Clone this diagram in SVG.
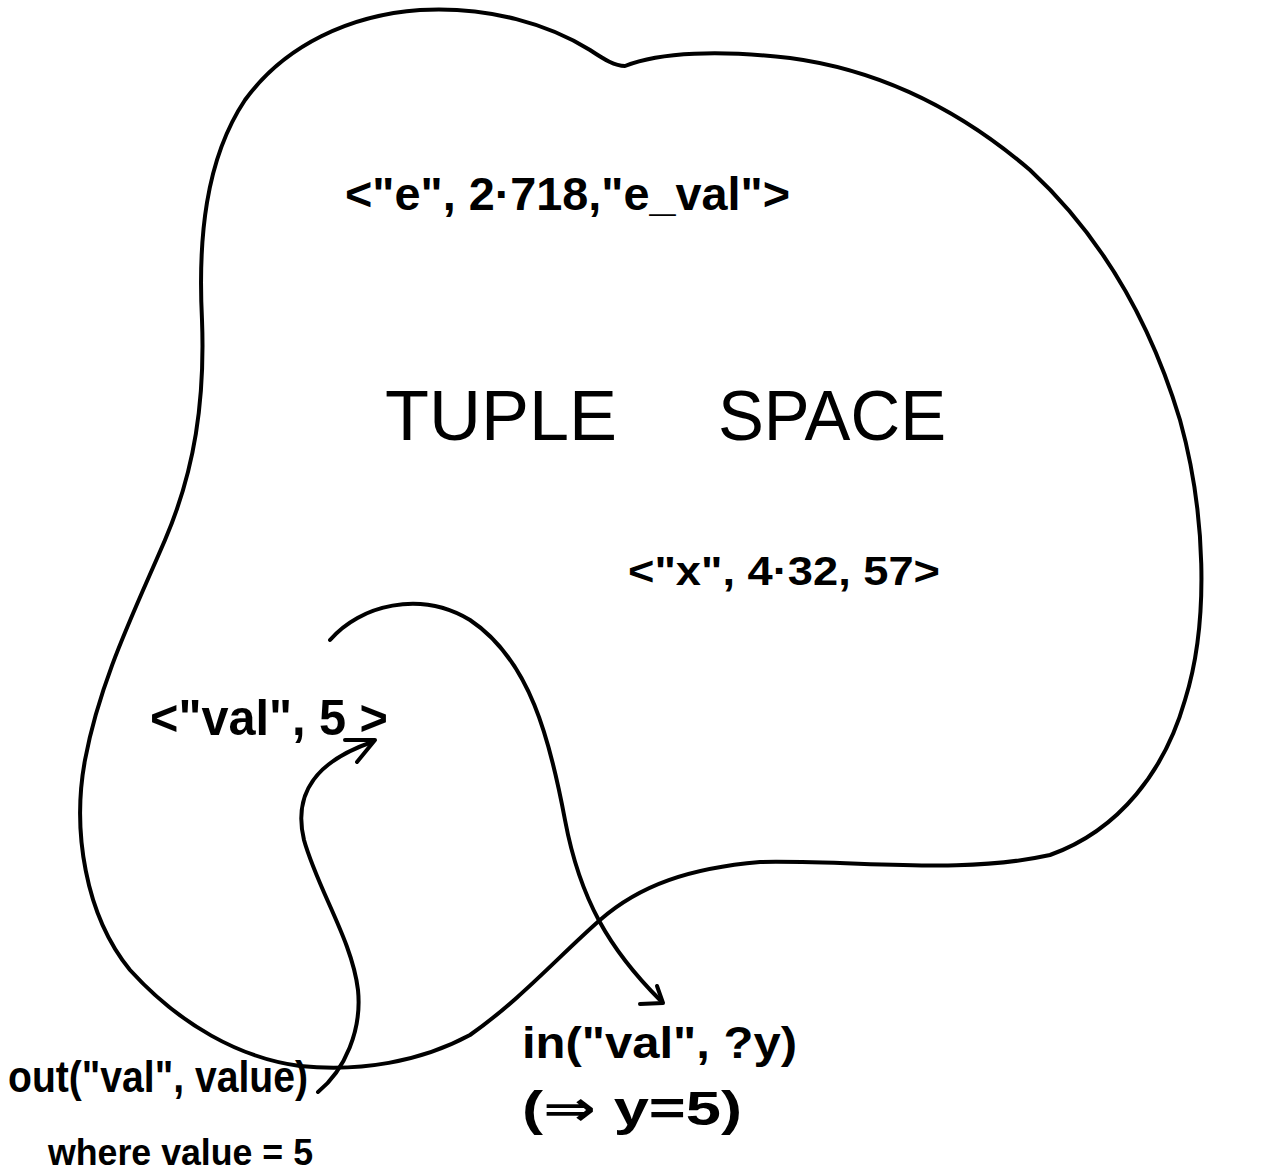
<svg xmlns="http://www.w3.org/2000/svg" width="1267" height="1172" viewBox="0 0 1267 1172">
<style>
.line{fill:none;stroke:#000;stroke-width:4;stroke-linecap:round;stroke-linejoin:round}
.t{font-family:"Liberation Sans","DejaVu Sans",sans-serif;fill:#000}
.b{font-weight:bold}
</style>
<rect width="1267" height="1172" fill="#fff"/>
<g id="tuple-space">
<path class="line" d="M625,66 C660,52 720,50 790,58 C880,70 960,110 1030,170 C1100,235 1150,320 1180,420 C1205,510 1210,620 1185,700 C1165,770 1120,830 1050,855 C960,875 860,860 760,862 C690,868 640,885 600,920 C560,955 520,1000 470,1035 C420,1062 360,1072 300,1066 C240,1058 180,1025 130,970 C85,915 72,830 85,760 C100,680 135,610 165,540 C195,470 205,400 202,320 C198,240 205,160 245,100 C285,45 350,15 420,10 C490,6 550,25 590,50 C605,60 615,66 625,66 Z"/>
<text class="t" x="385" y="440" font-size="70" textLength="232" lengthAdjust="spacingAndGlyphs">TUPLE</text>
<text class="t" x="718" y="440" font-size="70" textLength="228" lengthAdjust="spacingAndGlyphs">SPACE</text>
</g>
<g id="tuple-e">
<text class="t b" x="345" y="210" font-size="46" textLength="445" lengthAdjust="spacingAndGlyphs">&lt;"e", 2·718,"e_val"&gt;</text>
</g>
<g id="tuple-x">
<text class="t b" x="628" y="585" font-size="40" textLength="312" lengthAdjust="spacingAndGlyphs">&lt;"x", 4·32, 57&gt;</text>
</g>
<g id="tuple-val">
<text class="t b" x="150" y="735" font-size="50" textLength="238" lengthAdjust="spacingAndGlyphs">&lt;"val", 5 &gt;</text>
</g>
<g id="out-op">
<text class="t b" x="8" y="1092" font-size="44" textLength="300" lengthAdjust="spacingAndGlyphs">out("val", value)</text>
<text class="t b" x="48" y="1165" font-size="36" textLength="265" lengthAdjust="spacingAndGlyphs">where value = 5</text>
</g>
<g id="in-op">
<text class="t b" x="522" y="1058" font-size="44" textLength="275" lengthAdjust="spacingAndGlyphs">in("val", ?y)</text>
<text class="t b" x="522" y="1125" font-size="48" textLength="220" lengthAdjust="spacingAndGlyphs">(⇒ y=5)</text>
</g>
<g id="connectors">
<path class="line" d="M318,1092 C345,1070 362,1030 358,990 C352,940 318,890 304,840 C292,790 320,760 372,742"/>
<path class="line" d="M345,740 L375,740 L357,762"/>
<path class="line" d="M330,640 C360,605 420,590 470,620 C530,660 550,740 565,820 C580,900 610,950 660,1000"/>
<path class="line" d="M640,1004 L663,1003 L657,986"/>
</g>
</svg>
